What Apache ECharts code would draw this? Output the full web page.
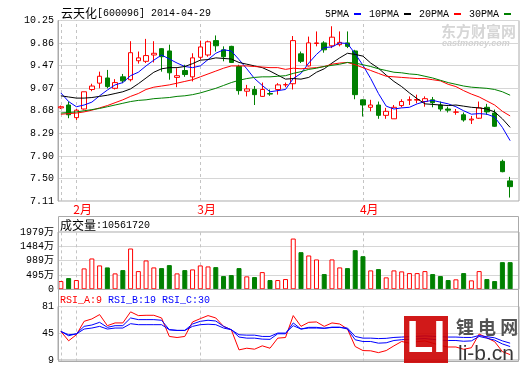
<!DOCTYPE html>
<html><head><meta charset="utf-8">
<script src="https://cdn.jsdelivr.net/npm/echarts@6/dist/echarts.min.js"></script>
<style>html,body{margin:0;padding:0;background:#fff}#c{width:520px;height:365px}</style>
</head><body><div id="c"></div>
<script>
const dates = ['2014-01-29','2014-01-30',
 '2014-02-07','2014-02-10','2014-02-11','2014-02-12','2014-02-13','2014-02-14','2014-02-17','2014-02-18','2014-02-19','2014-02-20','2014-02-21','2014-02-24','2014-02-25','2014-02-26','2014-02-27','2014-02-28',
 '2014-03-03','2014-03-04','2014-03-05','2014-03-06','2014-03-07','2014-03-10','2014-03-11','2014-03-12','2014-03-13','2014-03-14','2014-03-17','2014-03-18','2014-03-19','2014-03-20','2014-03-21','2014-03-24','2014-03-25','2014-03-26','2014-03-27','2014-03-28','2014-03-31',
 '2014-04-01','2014-04-02','2014-04-03','2014-04-04','2014-04-08','2014-04-09','2014-04-10','2014-04-11','2014-04-14','2014-04-15','2014-04-16','2014-04-17','2014-04-18','2014-04-21','2014-04-22','2014-04-23','2014-04-24','2014-04-25','2014-04-28','2014-04-29'];
const opens  = [8.73,8.78,8.56,8.71,9.05,9.16,9.25,9.07,9.27,9.22,9.55,9.54,9.65,9.76,9.72,9.26,9.38,9.27,9.61,9.65,9.90,9.74,9.80,9.45,9.02,9.05,8.93,8.98,9.05,9.13,9.15,9.67,9.46,9.85,9.86,9.81,9.83,9.86,9.72,8.87,8.74,8.78,8.60,8.54,8.77,8.865,8.865,8.84,8.87,8.78,8.71,8.655,8.61,8.52,8.55,8.74,8.64,7.80,7.46];
const closes = [8.75,8.61,8.69,9.01,9.11,9.28,9.10,9.17,9.20,9.69,9.60,9.64,9.68,9.62,9.34,9.29,9.31,9.60,9.79,9.88,9.81,9.62,9.52,9.03,9.06,8.96,9.05,8.97,9.13,9.135,9.90,9.54,9.86,9.86,9.74,9.96,9.87,9.80,8.96,8.78,8.78,8.60,8.67,8.74,8.84,8.87,8.875,8.89,8.82,8.71,8.69,8.658,8.52,8.535,8.73,8.66,8.41,7.62,7.36];
const lows   = [8.71,8.55,8.52,8.70,9.02,9.07,9.07,9.05,9.16,9.19,9.50,9.51,9.52,9.36,9.22,9.09,9.27,9.19,9.57,9.62,9.71,9.54,9.51,8.96,8.93,8.78,8.92,8.94,8.96,9.09,9.05,9.51,9.45,9.80,9.69,9.77,9.80,9.77,8.88,8.58,8.67,8.54,8.54,8.54,8.74,8.78,8.81,8.75,8.74,8.67,8.65,8.61,8.49,8.45,8.54,8.61,8.40,7.61,7.17];
const highs  = [8.77,8.84,8.71,9.01,9.15,9.36,9.39,9.23,9.32,9.89,9.71,9.93,9.89,9.77,9.83,9.42,9.48,9.68,9.90,9.90,9.99,9.80,9.81,9.48,9.13,9.11,9.17,9.05,9.16,9.17,9.98,9.71,9.97,10.06,9.89,10.15,10.06,10.06,9.74,8.88,8.87,8.84,8.73,8.78,8.88,8.93,8.96,8.93,8.92,8.84,8.75,8.71,8.65,8.59,8.84,8.80,8.70,7.83,7.53];
const ma5  = [8.99,8.84,8.75,8.78,8.83,8.94,9.04,9.13,9.17,9.29,9.35,9.46,9.56,9.65,9.58,9.51,9.45,9.43,9.46,9.57,9.68,9.74,9.72,9.57,9.41,9.24,9.12,9.01,9.03,9.05,9.24,9.33,9.51,9.66,9.78,9.79,9.86,9.85,9.67,9.47,9.24,8.98,8.76,8.71,8.73,8.74,8.80,8.84,8.86,8.83,8.80,8.75,8.68,8.62,8.63,8.62,8.57,8.39,8.16];
const ma10 = [8.94,8.92,8.90,8.90,8.91,8.93,8.95,8.98,9.01,9.06,9.15,9.25,9.35,9.41,9.43,9.43,9.45,9.50,9.56,9.57,9.60,9.59,9.58,9.52,9.49,9.46,9.43,9.37,9.30,9.23,9.24,9.23,9.26,9.35,9.41,9.51,9.60,9.68,9.66,9.63,9.51,9.42,9.30,9.19,9.10,8.99,8.89,8.80,8.79,8.78,8.77,8.78,8.76,8.74,8.73,8.71,8.66,8.54,8.39];
const ma20 = [8.62,8.63,8.64,8.66,8.69,8.73,8.77,8.82,8.87,8.93,8.98,9.05,9.09,9.11,9.13,9.16,9.19,9.22,9.27,9.32,9.37,9.42,9.46,9.46,9.46,9.45,9.44,9.43,9.43,9.40,9.42,9.41,9.42,9.43,9.45,9.49,9.51,9.52,9.48,9.43,9.38,9.33,9.28,9.27,9.26,9.25,9.24,9.24,9.22,9.20,9.14,9.10,9.03,8.97,8.92,8.85,8.78,8.67,8.59];
const ma30 = [8.64,8.65,8.66,8.68,8.70,8.72,8.75,8.78,8.81,8.84,8.86,8.87,8.89,8.90,8.91,8.93,8.94,8.96,8.99,9.03,9.07,9.12,9.17,9.21,9.24,9.26,9.27,9.27,9.28,9.29,9.33,9.36,9.40,9.42,9.45,9.47,9.49,9.52,9.51,9.48,9.45,9.41,9.38,9.35,9.34,9.32,9.31,9.28,9.25,9.21,9.17,9.14,9.11,9.09,9.08,9.07,9.05,9.01,8.95];
const volumes = [285,388,320,722,1065,825,756,550,663,1409,629,997,756,732,835,550,663,687,825,790,766,457,491,732,447,423,594,320,320,354,1753,1282,1168,1031,526,1031,756,732,1351,1144,653,698,412,653,619,560,560,629,526,457,320,344,560,309,629,354,285,938,938];
const rsiA = [48.4,36.1,44,61.6,64.7,70.4,55.9,59.5,59.5,74,69.1,69.5,69.5,66,41.8,40.4,41.8,60.8,65.1,69.1,66,55,50.6,24.2,26.4,25.1,29.5,26.4,39.6,40.4,69.1,55,60.3,60.8,55,59.5,58.1,51.5,28.6,23.3,23,20.6,23.3,29.5,35.2,33,35,36,33,30,28,28,25,27,45,40,35,22,18];
const rsiB = [48.4,42.7,45.3,55,56.8,60.3,53.7,55.9,55.9,66,63.8,63.8,63.8,63,50.6,49.7,49.7,58.1,61.6,63,62,55,50.6,41,39.6,39.6,38.3,38,45.3,45.3,59.5,51.5,53.7,53.7,52.5,54,54,51.5,37.4,35.2,35.2,33,33.5,36.5,37.5,38,38.5,39,38,37,36.5,36.5,35.5,36,41.8,39.5,37,32,28.6];
const rsiC = [48.4,44,45,51.5,52.8,55,51.5,52.8,52.8,58.5,57.2,57.2,57.2,57.2,50.6,49.7,49.7,55,57.2,57.8,57.2,52.8,50.6,44,43.5,43.5,41.8,41.8,46.2,46.2,55.9,51.5,52.8,52.8,52.5,53.5,53.5,52.8,41.8,39.6,39.6,39,39.3,40.5,41,41.5,42,42.5,42,41.5,41,41,40.5,40.5,43,41.5,40,36,33];
const priceTicks = ['7.11','7.50','7.90','8.29','8.68','9.07','9.47','9.86','10.25'];
const volTicks = ['0','495万','989万','1484万','1979万'];
const rsiTicks = ['9','45','81'];
const maNames = ['5PMA','10PMA','20PMA','30PMA'];
const stockTitle = '云天化';
const stockCode = '[600096] 2014-04-29';
const volTitle = '成交量';
const volValue = ':10561720';
const rsiNames = ['RSI_A:9','RSI_B:19','RSI_C:30'];

const MONO = 'Liberation Mono';
const CJK = 'Noto Sans CJK SC';
const RED = '#ff0000', GREEN = '#008000', BLUE = '#0000ff';
const BORDER = '#aaaaaa', GRIDC = '#d6d6d6';

const monthStarts = dates.map((d, i) => i).filter(i => i > 0 && dates[i].slice(5, 7) !== dates[i - 1].slice(5, 7));
const dashIdx = [0].concat(monthStarts);
const dashLine = {
  silent: true, symbol: 'none', z: 1, animation: false,
  label: { show: false },
  lineStyle: { color: '#c4c4c4', type: [3, 3], width: 1 },
  data: dashIdx.map(i => ({ xAxis: dates[i] }))
};

const chart = echarts.init(document.getElementById('c'), null, { renderer: 'canvas' });

const DL = 57, DW = 457, FL = 58, FW = 461;
const panels = [
  { top: 20.5, height: 180.5 },
  { top: 232, height: 57.3 },
  { top: 306.5, height: 55 }
];

function frameY(gi, n, labels) {
  return {
    gridIndex: gi, type: 'value', min: 0, max: n, interval: 1,
    axisLine: { show: true, lineStyle: { color: BORDER } },
    axisTick: { show: false },
    splitLine: { show: true, lineStyle: { color: GRIDC, width: 1 } },
    axisLabel: { margin: 4, color: '#000', fontSize: 10, fontFamily: MONO + ',' + CJK,
      formatter: v => labels[Math.round(v)] }
  };
}
const tok = (fam, size, color) => ({ fontFamily: fam, fontSize: size, color: color, fontWeight: 'normal' });

const option = {
  animation: false,
  backgroundColor: '#fff',
  title: [
    { text: '{c|' + stockTitle + '}{a|' + stockCode + '}', left: 61, top: 7, padding: 0,
      textStyle: { fontWeight: 'normal', rich: { c: tok(CJK, 12, '#000'), a: tok(MONO, 10, '#000') } } },
    { text: '{c|' + volTitle + '}{a|' + volValue + '}', left: 60, top: 219.5, padding: 0,
      textStyle: { fontWeight: 'normal', rich: { c: tok(CJK, 12, '#000'), a: tok(MONO, 10, '#000') } } },
    { text: '{r|' + rsiNames[0] + ' }{b|' + rsiNames[1] + ' ' + rsiNames[2] + '}', left: 60, top: 295, padding: 0,
      textStyle: { fontWeight: 'normal', rich: { r: tok(MONO, 10, RED), b: tok(MONO, 10, BLUE) } } }
  ],
  legend: {
    data: maNames, right: 9, top: 9, align: 'right', icon: 'rect', itemWidth: 7, itemHeight: 2, itemGap: 8,
    padding: 0, selectedMode: false,
    textStyle: { fontFamily: MONO, fontSize: 10, color: '#000' }
  },
  grid: [
    { left: DL, width: DW, top: panels[0].top, height: panels[0].height },
    { left: DL, width: DW, top: panels[1].top, height: panels[1].height },
    { left: DL, width: DW, top: panels[2].top, height: panels[2].height },
    { left: FL, width: FW, top: panels[0].top, height: panels[0].height, show: true, borderColor: BORDER, borderWidth: 1 },
    { left: FL, width: FW, top: panels[1].top, height: panels[1].height, show: true, borderColor: BORDER, borderWidth: 1 },
    { left: FL, width: FW, top: panels[2].top, height: panels[2].height, show: true, borderColor: BORDER, borderWidth: 1 }
  ],
  xAxis: [
    { gridIndex: 0, type: 'category', data: dates, boundaryGap: true,
      axisLine: { show: false }, axisTick: { show: false }, splitLine: { show: false },
      axisLabel: { interval: (i) => monthStarts.indexOf(i) >= 0, formatter: v => parseInt(v.slice(5, 7), 10) + '月',
        color: RED, fontSize: 12, fontFamily: CJK, align: 'left', padding: [0, 0, 0, -3], margin: 2 } },
    { gridIndex: 1, type: 'category', data: dates, boundaryGap: true, show: false },
    { gridIndex: 2, type: 'category', data: dates, boundaryGap: true, show: false },
    { gridIndex: 3, type: 'value', min: 0, max: 1, show: false },
    { gridIndex: 4, type: 'value', min: 0, max: 1, show: false },
    { gridIndex: 5, type: 'value', min: 0, max: 1, show: false }
  ],
  yAxis: [
    { gridIndex: 0, type: 'value', min: parseFloat(priceTicks[0]), max: parseFloat(priceTicks[priceTicks.length - 1]), show: false },
    { gridIndex: 1, type: 'value', min: 0, max: parseFloat(volTicks[volTicks.length - 1]), show: false },
    { gridIndex: 2, type: 'value', min: parseFloat(rsiTicks[0]), max: parseFloat(rsiTicks[rsiTicks.length - 1]), show: false },
    frameY(3, priceTicks.length - 1, priceTicks),
    frameY(4, volTicks.length - 1, volTicks),
    frameY(5, rsiTicks.length - 1, rsiTicks)
  ],
  graphic: [
    { type: 'rect', silent: true, z: 5, shape: { x: 58.5, y: 216.5, width: 460, height: 73 }, style: { fill: 'none', stroke: BORDER, lineWidth: 1 } },
    { type: 'rect', silent: true, z: 5, shape: { x: 58.5, y: 289.5, width: 460, height: 72 }, style: { fill: 'none', stroke: BORDER, lineWidth: 1 } },
    { type: 'text', silent: true, z: 50, x: 441, y: 31, style: { text: '东方财富网', font: 'bold 15px ' + CJK, fill: '#d6d6d6', textVerticalAlign: 'middle', verticalAlign: 'middle' } },
    { type: 'text', silent: true, z: 50, x: 442, y: 43.5, style: { text: 'eastmoney.com', font: 'bold italic 9px Liberation Sans', fill: '#d2d2d2', textVerticalAlign: 'middle', verticalAlign: 'middle' } },
    { type: 'rect', silent: true, z: 50, shape: { x: 404, y: 316, width: 44, height: 47 }, style: { fill: '#cc0000', opacity: 0.9 } },
    { type: 'text', silent: true, z: 51, x: 426, y: 340, style: { text: 'LI', font: 'bold 44px Liberation Sans', fill: '#fff', textAlign: 'center', align: 'center', textVerticalAlign: 'middle', verticalAlign: 'middle' } },
    { type: 'text', silent: true, z: 51, x: 456, y: 327, style: { text: '锂 电 网', font: 'bold 18px ' + CJK, fill: '#404040', opacity: 0.9, textVerticalAlign: 'middle', verticalAlign: 'middle' } },
    { type: 'text', silent: true, z: 51, x: 458, y: 354, style: { text: 'li-b.cn', font: '21px Liberation Sans', fill: '#222', opacity: 0.9, textVerticalAlign: 'middle', verticalAlign: 'middle' } }
  ],
  series: [
    { name: 'K', type: 'candlestick', xAxisIndex: 0, yAxisIndex: 0, barWidth: 5,
      data: dates.map((d, i) => [opens[i], closes[i], lows[i], highs[i]]),
      itemStyle: { color: '#ffffff', color0: GREEN, borderColor: RED, borderColor0: GREEN, borderWidth: 1 },
      markLine: dashLine },
    { name: maNames[0], type: 'line', xAxisIndex: 0, yAxisIndex: 0, data: ma5, showSymbol: false, symbol: 'none', lineStyle: { color: BLUE, width: 1 }, itemStyle: { color: BLUE } },
    { name: maNames[1], type: 'line', xAxisIndex: 0, yAxisIndex: 0, data: ma10, showSymbol: false, symbol: 'none', lineStyle: { color: '#000', width: 1 }, itemStyle: { color: '#000' } },
    { name: maNames[2], type: 'line', xAxisIndex: 0, yAxisIndex: 0, data: ma20, showSymbol: false, symbol: 'none', lineStyle: { color: RED, width: 1 }, itemStyle: { color: RED } },
    { name: maNames[3], type: 'line', xAxisIndex: 0, yAxisIndex: 0, data: ma30, showSymbol: false, symbol: 'none', lineStyle: { color: GREEN, width: 1 }, itemStyle: { color: GREEN } },
    { name: 'VOL', type: 'bar', xAxisIndex: 1, yAxisIndex: 1, barWidth: 5,
      data: volumes.map((v, i) => ({ value: v, itemStyle: closes[i] >= opens[i]
        ? { color: '#ffffff', borderColor: RED, borderWidth: 1 }
        : { color: GREEN, borderColor: GREEN, borderWidth: 1 } })),
      markLine: dashLine },
    { name: rsiNames[0], type: 'line', xAxisIndex: 2, yAxisIndex: 2, data: rsiA, showSymbol: false, symbol: 'none', lineStyle: { color: RED, width: 1 }, markLine: dashLine },
    { name: rsiNames[1], type: 'line', xAxisIndex: 2, yAxisIndex: 2, data: rsiB, showSymbol: false, symbol: 'none', lineStyle: { color: BLUE, width: 1 } },
    { name: rsiNames[2], type: 'line', xAxisIndex: 2, yAxisIndex: 2, data: rsiC, showSymbol: false, symbol: 'none', lineStyle: { color: BLUE, width: 1 } }
  ]
};
chart.setOption(option);
</script>
</body></html>
